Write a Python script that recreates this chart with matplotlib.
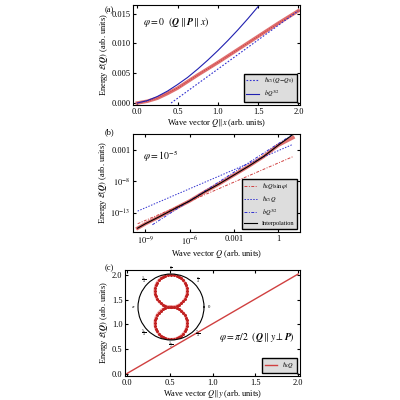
import numpy as np
import matplotlib
matplotlib.use("Agg")
import matplotlib.pyplot as plt

plt.rcParams['font.family'] = ['Liberation Serif', 'DejaVu Serif']
plt.rcParams['mathtext.fontset'] = 'stix'
plt.rcParams['font.size'] = 6

# Panel (a)
qa_red = [0, 0.125, 0.25, 0.375, 0.5, 0.75, 1.0, 1.25, 1.5, 1.75, 2.0]
ea_red = [0, 0.0003, 0.0008, 0.0016, 0.0025, 0.0047, 0.0068, 0.0090, 0.0112, 0.0134, 0.0155]
qa_b = [0, 0.125, 0.25, 0.375, 0.5, 0.625, 0.75, 0.875, 1.0, 1.125, 1.25, 1.375, 1.5, 1.56]
ea_b = [0, 0.0004, 0.0011, 0.0020, 0.0031, 0.0043, 0.0057, 0.0072, 0.0088, 0.0105, 0.0123, 0.0142, 0.0162, 0.0170]
qa_lin = [0.42, 2.0]
ea_lin = [0.0, 0.0155]

# Panel (b)
qb = [3e-10, 1e-9, 1e-8, 1e-7, 1e-6, 1e-5, 1e-4, 1e-3, 1e-2, 0.1, 1, 10]
eb_red = [4e-16, 2e-15, 3e-14, 5e-13, 8e-12, 2e-10, 4e-9, 1e-7, 2.5e-6, 8e-5, 5e-3, 0.08]
eb_blk = [4e-16, 2e-15, 3e-14, 5e-13, 8e-12, 2e-10, 4e-9, 1e-7, 2.5e-6, 8e-5, 5e-3, 0.25]
qb_lin = [3e-10, 10]
eb_sin = [2e-15, 8e-5]
eb_c1 = [2e-13, 7e-3]
qb_pow = [3e-9, 10]
eb_pow = [1.4e-15, 0.28]

# Panel (c)
qc = [0, 2.0]
ec = [0, 2.02]
theta = np.linspace(0, 2*np.pi, 73)
r_polar = [abs(np.sin(t)) for t in theta]
polar_labels = ['0', r'$\frac{\pi}{4}$', r'$\frac{\pi}{2}$', r'$\frac{3\pi}{4}$', r'$\pi$',
                r'$\frac{5\pi}{4}$', r'$\frac{3\pi}{2}$', r'$\frac{7\pi}{4}$']

fig = plt.figure(figsize=(4, 4), dpi=100)

axa = fig.add_axes([0.333, 0.738, 0.417, 0.25])
axa.plot(qa_red, ea_red, color='#e07070', lw=2.5)
axa.plot(qa_red, ea_red, color='#c03030', lw=0.6, ls=':')
axa.plot(qa_lin, ea_lin, color='#3030d0', lw=0.8, ls=(0, (1.5, 1.5)), label=r'$\hbar c_1(Q\!-\!Q_0)$')
axa.plot(qa_b, ea_b, color='#2020b0', lw=0.8, label=r'$bQ^{3/2}$')
axa.set_xlim(-0.05, 2.02)
axa.set_ylim(-0.0003, 0.0165)
axa.set_xticks([0, 0.5, 1.0, 1.5, 2.0])
axa.set_yticks([0, 0.005, 0.010, 0.015])
axa.set_yticklabels(['0.000', '0.005', '0.010', '0.015'])
axa.set_xlabel(r'Wave vector $Q\|x$ (arb. units)', labelpad=1)
axa.set_ylabel(r'Energy $\mathcal{E}(\boldsymbol{Q})$ (arb. units)', labelpad=1)
axa.text(0.06, 0.9, r'$\varphi=0$  $(\boldsymbol{Q}\parallel\boldsymbol{P}\parallel x)$', transform=axa.transAxes, fontsize=7, va='top')
axa.legend(loc='lower right', fontsize=4.5, facecolor='#dddddd', framealpha=1, edgecolor='k', fancybox=False)
fig.text(0.285, 0.985, '(a)', fontsize=6, va='top', ha='right')

axb = fig.add_axes([0.333, 0.42, 0.417, 0.245])
axb.plot(qb, eb_red, color='#e07070', lw=2.5)
axb.plot(qb_lin, eb_sin, color='#d04040', lw=0.7, ls=(0, (3, 1.5, 1, 1.5)), label=r'$\hbar cQ|\sin\varphi|$')
axb.plot(qb_lin, eb_c1, color='#3030d0', lw=0.7, ls=(0, (1.5, 1.5)), label=r'$\hbar c_1 Q$')
axb.plot(qb_pow, eb_pow, color='#3030d0', lw=0.7, ls=(0, (3, 1.5, 1, 1.5)), label=r'$bQ^{3/2}$')
axb.plot(qb, eb_blk, color='k', lw=0.8, label='Interpolation')
axb.set_xscale('log'); axb.set_yscale('log')
axb.set_xlim(1.5e-10, 30)
axb.set_ylim(1e-16, 0.3)
axb.set_xticks([1e-9, 1e-6, 1e-3, 1])
axb.set_xticklabels([r'$10^{-9}$', r'$10^{-6}$', '0.001', '1'])
axb.set_yticks([1e-13, 1e-8, 1e-3])
axb.set_yticklabels([r'$10^{-13}$', r'$10^{-8}$', '0.001'])
axb.minorticks_off()
axb.set_xlabel(r'Wave vector $Q$ (arb. units)', labelpad=1)
axb.set_ylabel(r'Energy $\mathcal{E}(\boldsymbol{Q})$ (arb. units)', labelpad=1)
axb.text(0.06, 0.85, r'$\varphi=10^{-5}$', transform=axb.transAxes, fontsize=7, va='top')
axb.legend(loc='lower right', fontsize=4.5, facecolor='#dddddd', framealpha=1, edgecolor='k', fancybox=False)
fig.text(0.285, 0.68, '(b)', fontsize=6, va='top', ha='right')

axc = fig.add_axes([0.313, 0.06, 0.437, 0.265])
axc.plot(qc, ec, color='#d04040', lw=1.0, label=r'$\hbar cQ$')
axc.set_xlim(-0.02, 2.02)
axc.set_ylim(-0.05, 2.1)
axc.set_xticks([0, 0.5, 1.0, 1.5, 2.0])
axc.set_yticks([0, 0.5, 1.0, 1.5, 2.0])
axc.set_xlabel(r'Wave vector $Q\|y$ (arb. units)', labelpad=1)
axc.set_ylabel(r'Energy $\mathcal{E}(\boldsymbol{Q})$ (arb. units)', labelpad=1)
axc.text(0.97, 0.34, r'$\varphi=\pi/2$  $(\boldsymbol{Q}\parallel y\perp\boldsymbol{P})$', transform=axc.transAxes, fontsize=7, ha='right')
axc.legend(loc='lower right', fontsize=4.5, facecolor='#dddddd', framealpha=1, edgecolor='k', fancybox=False)
fig.text(0.285, 0.34, '(c)', fontsize=6, va='top', ha='right')

axp = fig.add_axes([0.345, 0.15, 0.165, 0.165], projection='polar')
axp.plot(theta, r_polar, color='#f0a0a0', lw=2.0)
axp.plot(theta, r_polar, color='#c02020', lw=0, marker='o', ms=1.2)
axp.set_ylim(0, 1.02)
axp.set_yticks([])
axp.set_xticks([])
for k, lab in enumerate(polar_labels):
    axp.text(k * np.pi / 4, 1.17, lab, fontsize=3.5, ha='center', va='center')
axp.grid(False)
axp.spines['polar'].set_linewidth(0.8)
axp.patch.set_alpha(0)

for ax in (axa, axb, axc):
    ax.tick_params(direction='in', length=2, pad=2, top=True, right=True)

fig.savefig('out.png', dpi=100)
